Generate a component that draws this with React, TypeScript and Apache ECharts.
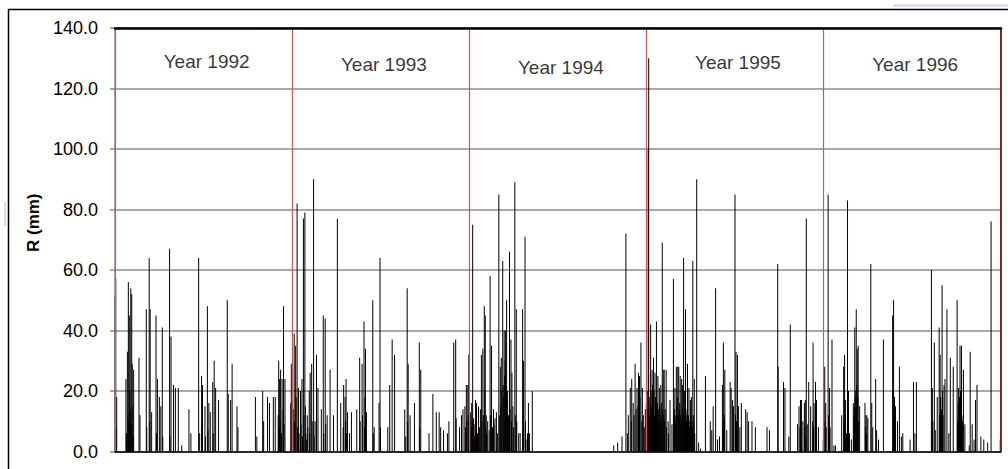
import React, { useEffect, useRef } from "react";
import * as echarts from "echarts";

// Daily rainfall (mm): [day of year (0-based), value]
const years = ["1992", "1993", "1994", "1995", "1996"];
const yearLengths = [366, 365, 365, 365, 366];
const yTicks = [0, 20, 40, 60, 80, 100, 120, 140];
// height (in mm units) at which each year label sits
const yearLabelLevels = [129.0, 127.8, 127.0, 128.6, 127.8];

const rain1992: [number, number][] = [
  [0, 51], [1, 57], [2, 8], [3, 18], [22, 24], [23, 6], [25, 33], [26, 12], [27, 56], [28, 10], [29, 45], [30, 20],
  [31, 14], [32, 54], [33, 9], [34, 52], [35, 29], [36, 15], [37, 5], [38, 27], [49, 31], [51, 12], [64, 47], [65, 8],
  [70, 64], [71, 10], [72, 47], [75, 13], [84, 45], [85, 6], [87, 24], [91, 18], [94, 15], [97, 41], [98, 5],
  [112, 67], [113, 5], [115, 38], [120, 22], [124, 21], [130, 21], [137, 2], [152, 14], [156, 6], [172, 64], [174, 6],
  [178, 25], [179, 9], [180, 22], [185, 15], [186, 5], [190, 48], [191, 7], [193, 16], [196, 13], [201, 23], [202, 6],
  [204, 30], [207, 21], [213, 17], [231, 50], [233, 19], [238, 17], [241, 29], [251, 15], [253, 8], [289, 18],
  [292, 5], [304, 20], [306, 10], [314, 18], [318, 16], [326, 18], [330, 18], [336, 12], [337, 30], [338, 8],
  [339, 24], [340, 10], [341, 27], [343, 6], [344, 24], [346, 14], [347, 48], [348, 9], [350, 24], [362, 16], [363, 29],
];

const rain1993: [number, number][] = [
  [1, 14], [3, 39], [4, 10], [6, 35], [7, 18], [9, 82], [10, 8], [12, 21], [13, 6], [16, 20], [17, 9], [19, 24],
  [20, 5], [22, 77], [23, 12], [25, 79], [26, 15], [27, 6], [28, 4], [30, 12], [31, 8], [34, 20], [35, 6], [36, 26],
  [39, 29], [40, 10], [43, 90], [44, 5], [46, 10], [49, 32], [52, 21], [59, 14], [63, 45], [64, 6], [67, 44], [68, 9],
  [71, 12], [77, 27], [84, 12], [92, 77], [99, 16], [104, 8], [105, 22], [108, 18], [109, 10], [110, 24], [111, 6],
  [113, 13], [117, 6], [121, 13], [132, 14], [138, 31], [139, 10], [143, 29], [144, 12], [147, 43], [148, 8],
  [149, 18], [150, 34], [151, 10], [152, 13], [165, 50], [166, 6], [168, 8], [178, 16], [180, 64], [181, 8],
  [196, 8], [200, 22], [205, 37], [210, 32], [231, 14], [233, 5], [236, 54], [237, 10], [238, 29], [242, 12],
  [251, 16], [261, 36], [262, 8], [264, 27], [281, 6], [289, 19], [296, 13], [302, 13], [305, 8], [311, 7],
  [319, 6], [322, 10], [332, 36], [336, 37], [337, 11], [344, 8], [348, 12], [351, 14], [355, 15], [356, 8],
  [358, 22], [359, 10], [361, 22], [362, 12], [363, 32],
];

const rain1994: [number, number][] = [
  [0, 5], [2, 13], [3, 8], [4, 16], [5, 10], [6, 75], [7, 6], [8, 11], [9, 9], [10, 5], [12, 17], [13, 7], [14, 16],
  [16, 6], [18, 15], [20, 8], [22, 14], [24, 32], [25, 10], [27, 34], [28, 12], [30, 48], [31, 20], [32, 45],
  [33, 8], [34, 12], [35, 6], [37, 10], [40, 7], [42, 58], [43, 12], [45, 35], [47, 8], [49, 14], [50, 9], [52, 11],
  [55, 13], [57, 6], [60, 85], [61, 12], [63, 28], [64, 15], [65, 31], [66, 20], [68, 63], [69, 22], [70, 18],
  [71, 40], [72, 25], [73, 30], [74, 40], [75, 22], [76, 50], [77, 18], [78, 20], [80, 12], [82, 66], [83, 14],
  [85, 37], [86, 10], [87, 26], [89, 15], [90, 8], [93, 89], [94, 12], [96, 47], [97, 10], [101, 6], [104, 6],
  [109, 47], [110, 8], [111, 30], [114, 71], [115, 10], [116, 4], [119, 6], [120, 5], [121, 16], [123, 6], [129, 20],
  [297, 2], [305, 3], [314, 5], [322, 72], [325, 6], [327, 12], [331, 21], [333, 10], [334, 24], [337, 16],
  [339, 12], [341, 29], [343, 14], [345, 21], [347, 15], [348, 26], [350, 25], [351, 18], [353, 36], [355, 10],
  [356, 21], [358, 12], [360, 8], [362, 14], [364, 16],
];

const rain1995: [number, number][] = [
  [0, 8], [1, 14], [2, 20], [3, 100], [4, 130], [5, 18], [6, 12], [7, 16], [8, 42], [9, 20], [10, 15], [11, 27],
  [12, 22], [13, 18], [14, 31], [15, 20], [16, 12], [17, 26], [18, 18], [19, 15], [20, 43], [21, 12], [22, 16],
  [23, 25], [24, 14], [25, 10], [26, 21], [27, 15], [28, 12], [29, 22], [30, 16], [31, 10], [32, 69], [33, 14],
  [34, 27], [35, 12], [36, 27], [37, 10], [38, 14], [40, 27], [41, 8], [44, 10], [45, 6], [48, 17], [52, 9],
  [55, 57], [56, 12], [57, 14], [58, 21], [59, 10], [60, 12], [61, 28], [62, 15], [63, 18], [64, 28], [65, 12],
  [66, 28], [67, 14], [68, 16], [69, 25], [70, 12], [71, 10], [72, 24], [73, 14], [74, 22], [75, 12], [76, 64],
  [77, 10], [78, 20], [79, 14], [80, 47], [81, 12], [82, 10], [83, 14], [84, 29], [85, 10], [86, 12], [87, 21],
  [88, 8], [89, 10], [90, 17], [91, 12], [92, 18], [93, 10], [94, 8], [95, 63], [96, 12], [97, 10], [98, 24],
  [99, 6], [103, 90], [107, 3], [111, 1], [121, 25], [131, 10], [134, 7], [137, 15], [142, 54], [146, 4], [150, 5],
  [156, 22], [157, 8], [158, 36], [159, 10], [160, 12], [161, 27], [165, 7], [172, 23], [174, 21], [177, 17],
  [179, 15], [182, 85], [183, 12], [184, 33], [185, 10], [186, 8], [187, 32], [189, 15], [192, 8], [195, 16],
  [204, 14], [207, 13], [210, 10], [217, 10], [224, 8], [248, 8], [253, 7], [270, 62], [271, 28], [282, 23],
  [285, 21], [293, 5], [296, 42], [311, 9], [314, 15], [316, 8], [317, 17], [318, 6], [319, 17], [322, 10],
  [325, 16], [326, 8], [327, 17], [328, 5], [329, 77], [331, 9], [334, 23], [338, 15], [342, 10], [343, 36],
  [344, 8], [345, 16], [348, 23], [350, 17], [354, 8], [364, 4],
];

const rain1996: [number, number][] = [
  [2, 28], [3, 10], [4, 16], [5, 8], [9, 85], [10, 12], [11, 6], [12, 21], [13, 8], [17, 37], [21, 2], [24, 2],
  [37, 12], [41, 28], [42, 10], [43, 32], [44, 12], [45, 17], [47, 6], [49, 83], [50, 10], [51, 20], [53, 6],
  [57, 4], [61, 16], [62, 12], [63, 15], [64, 41], [65, 18], [66, 20], [67, 47], [68, 22], [69, 34], [70, 18],
  [71, 35], [72, 10], [74, 15], [85, 16], [86, 8], [87, 12], [88, 6], [89, 12], [91, 11], [97, 62], [99, 16],
  [101, 8], [107, 24], [109, 7], [113, 4], [123, 37], [142, 45], [143, 20], [144, 50], [145, 12], [146, 18],
  [147, 6], [148, 15], [152, 10], [156, 28], [160, 5], [163, 6], [178, 4], [185, 23], [188, 6], [191, 23],
  [222, 60], [223, 8], [224, 21], [225, 10], [228, 36], [230, 7], [234, 18], [238, 41], [239, 12], [240, 32],
  [241, 18], [242, 10], [243, 14], [244, 55], [245, 20], [246, 12], [248, 22], [250, 24], [254, 47], [258, 6],
  [261, 31], [267, 28], [275, 50], [276, 10], [277, 16], [278, 21], [279, 12], [280, 18], [281, 35], [282, 20],
  [283, 16], [284, 35], [285, 12], [286, 10], [288, 27], [291, 9], [300, 2], [302, 33], [306, 9], [310, 4],
  [313, 17], [316, 22], [324, 5], [330, 4], [338, 3], [345, 76], [364, 4],
];

const yearlyRain = [rain1992, rain1993, rain1994, rain1995, rain1996];
const FONT = "Arial, 'Liberation Sans', sans-serif";

export default function App() {
  const ref = useRef<HTMLDivElement>(null);
  useEffect(() => {
    if (!ref.current) return;
    const chart = echarts.init(ref.current, null, { renderer: "svg" });

    const starts: number[] = [];
    let acc = 0;
    yearLengths.forEach((len) => {
      starts.push(acc);
      acc += len;
    });
    const totalDays = acc;

    const data: [number, number][] = [];
    yearlyRain.forEach((arr, i) => {
      arr.forEach(([d, v]) => data.push([starts[i] + d + 0.5, v]));
    });

    const labelData = years.map((y, i) => ({
      name: "Year " + y,
      value: [starts[i] + yearLengths[i] / 2 + 6, yearLabelLevels[i]],
    }));

    chart.setOption({
      animation: false,
      backgroundColor: "#ffffff",
      textStyle: { fontFamily: FONT },
      grid: { left: 115, right: 7, top: 28, bottom: 17.5, containLabel: false },
      xAxis: [
        {
          type: "value",
          min: 0,
          max: totalDays,
          position: "bottom",
          axisLine: { show: true, onZero: false, lineStyle: { color: "#000", width: 1.5 } },
          axisTick: { show: false },
          axisLabel: { show: false },
          splitLine: { show: false },
          z: 5,
        },
        {
          type: "value",
          min: 0,
          max: totalDays,
          position: "top",
          axisLine: { show: true, onZero: false, lineStyle: { color: "#000", width: 2.5 } },
          axisTick: { show: false },
          axisLabel: { show: false },
          splitLine: { show: false },
          z: 5,
        },
      ],
      yAxis: {
        type: "value",
        min: yTicks[0],
        max: yTicks[yTicks.length - 1],
        interval: 20,
        name: "R (mm)",
        nameLocation: "middle",
        nameGap: 71,
        nameTextStyle: {
          fontSize: 17,
          fontWeight: "bold",
          color: "#000",
          fontFamily: FONT,
          padding: [0, 0, 0, 34],
        },
        axisLine: { show: true, lineStyle: { color: "#888", width: 1.5 } },
        axisTick: { show: true, length: 5, lineStyle: { color: "#888", width: 1.5 } },
        axisLabel: {
          formatter: (v: number) => v.toFixed(1),
          fontSize: 18,
          color: "#000",
          margin: 17,
        },
        splitLine: { show: true, lineStyle: { color: "#8c8c8c", width: 1.5 } },
      },
      series: [
        {
          type: "bar",
          xAxisIndex: 0,
          data,
          barWidth: 1,
          itemStyle: { color: "#000" },
          z: 2,
          markLine: {
            silent: true,
            symbol: ["none", "none"],
            label: { show: false },
            lineStyle: { color: "#d9534f", width: 1.2, type: "solid", opacity: 1 },
            data: starts.map((b) => ({ xAxis: b })),
          },
        },
        {
          type: "scatter",
          xAxisIndex: 0,
          symbolSize: 0,
          silent: true,
          data: labelData,
          label: {
            show: true,
            position: "inside",
            formatter: "{b}",
            fontSize: 19,
            color: "#000",
            fontFamily: FONT,
          },
          markLine: {
            silent: true,
            symbol: ["none", "none"],
            label: { show: false },
            lineStyle: { color: "#7a2a2a", width: 2, type: "solid", opacity: 1 },
            data: [{ xAxis: totalDays }],
          },
        },
      ],
      graphic: [
        {
          type: "line",
          shape: { x1: 8, y1: 9.5, x2: 1008, y2: 9.5 },
          style: { stroke: "#000", lineWidth: 1.5 },
          silent: true,
          z: 100,
        },
        {
          type: "line",
          shape: { x1: 8.5, y1: 9, x2: 8.5, y2: 469 },
          style: { stroke: "#000", lineWidth: 1.5 },
          silent: true,
          z: 100,
        },
        {
          type: "rect",
          shape: { x: 893, y: 4, width: 115, height: 3 },
          style: { fill: "#dbe2ee" },
          silent: true,
        },
        {
          type: "rect",
          shape: { x: 4, y: 202, width: 2, height: 24 },
          style: { fill: "#d8dcea" },
          silent: true,
        },
      ],
    });
    return () => chart.dispose();
  }, []);
  return (
    <div
      ref={ref}
      style={{ position: "fixed", left: 0, top: 0, width: 1008, height: 469, background: "#fff" }}
    />
  );
}
